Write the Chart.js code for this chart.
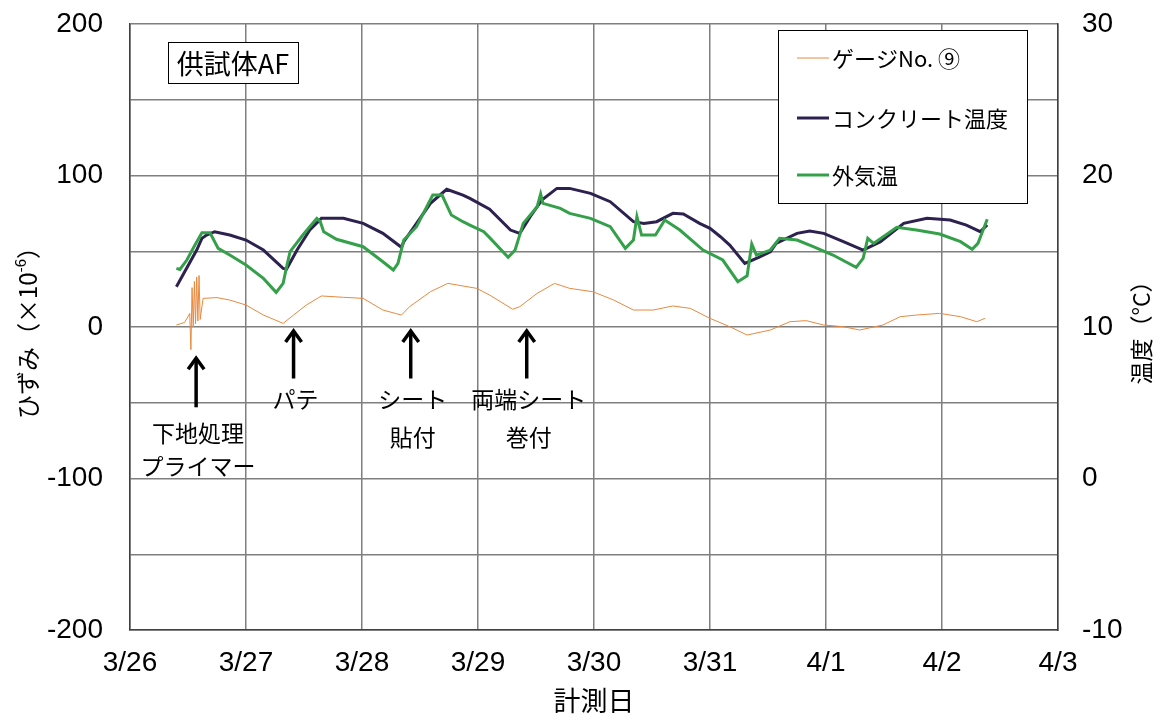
<!DOCTYPE html>
<html>
<head>
<meta charset="utf-8">
<script src="https://cdn.jsdelivr.net/npm/chart.js@4.4.1/dist/chart.umd.min.js"></script>
<style>
  html, body { margin: 0; padding: 0; background: #fff; }
</style>
</head>
<body>
<canvas id="myChart" width="1170" height="719"></canvas>
<script>
// x axis: days since 3/26 0:00
var dateLabels = ['3/26', '3/27', '3/28', '3/29', '3/30', '3/31', '4/1', '4/2', '4/3'];

// gauge No.9 strain (x10^-6), left axis
var gaugeDays = [0.40, 0.47, 0.50, 0.515, 0.525, 0.535, 0.545, 0.555, 0.565, 0.575, 0.585, 0.595, 0.605, 0.63,
    0.75, 0.86, 1.00, 1.15, 1.32, 1.41, 1.52, 1.65, 1.84, 2.01, 2.18, 2.34, 2.41, 2.59, 2.74, 2.99,
    3.10, 3.30, 3.36, 3.51, 3.66, 3.79, 3.99, 4.17, 4.34, 4.51, 4.68, 4.83, 5.00, 5.17, 5.32, 5.52,
    5.69, 5.83, 5.98, 6.15, 6.29, 6.49, 6.64, 6.78, 6.98, 7.16, 7.30, 7.37];
var gaugeStrain = [1.3, 3, 6.8, 9, -15, 26, 0, 30, 2, 33, 4, 34, 5, 18.9,
    19.4, 17.8, 14.5, 7.9, 2.4, 7.9, 14.5, 20.5, 19.6, 18.9, 11.2, 7.9, 13.4, 23.3, 28.8, 25.5,
    21.1, 11.7, 13.4, 22.2, 28.8, 25.5, 23.3, 17.8, 11.2, 11.2, 13.9, 12.3, 5.7, 0.2, -5.3, -2,
    3.5, 4.2, 1.3, 0.2, -2, 1.3, 6.8, 7.9, 9, 6.8, 3.5, 5.7];

// concrete temperature (deg C), right axis
var concreteDays = [0.40, 0.575, 0.62, 0.66, 0.73, 0.86, 1.00, 1.15, 1.32, 1.35, 1.44, 1.55, 1.65, 1.84,
    2.01, 2.18, 2.34, 2.36, 2.47, 2.59, 2.73, 2.87, 2.93, 3.10, 3.28, 3.36, 3.45, 3.55, 3.68, 3.79,
    3.97, 4.14, 4.34, 4.43, 4.54, 4.68, 4.77, 4.91, 5.00, 5.09, 5.17, 5.30, 5.42, 5.52, 5.57, 5.75,
    5.86, 5.98, 6.15, 6.32, 6.47, 6.67, 6.87, 7.07, 7.21, 7.33, 7.39];
var concreteTemp = [12.66, 15.08, 15.85, 16.07, 16.29, 16.07, 15.74, 15.08, 13.87, 13.83, 15.08, 16.4, 17.17, 17.17,
    16.84, 16.18, 15.26, 15.63, 16.84, 18.16, 19.09, 18.71, 18.49, 17.78, 16.4, 16.18, 17.28, 18.38, 19.15, 19.15,
    18.82, 18.27, 16.95, 16.84, 16.95, 17.5, 17.46, 16.84, 16.51, 15.96, 15.41, 14.2, 14.6, 14.97, 15.52, 16.18,
    16.34, 16.18, 15.63, 15.08, 15.63, 16.84, 17.17, 17.06, 16.73, 16.29, 16.73];

// outside air temperature (deg C), right axis
var airDays = [0.40, 0.43, 0.49, 0.56, 0.62, 0.69, 0.76, 0.86, 1.00, 1.15, 1.26, 1.32, 1.35, 1.38,
    1.49, 1.61, 1.64, 1.67, 1.78, 2.01, 2.18, 2.27, 2.31, 2.36, 2.47, 2.61, 2.69, 2.77, 2.87, 2.93,
    3.05, 3.10, 3.26, 3.32, 3.39, 3.51, 3.54, 3.56, 3.71, 3.79, 3.97, 4.14, 4.27, 4.34, 4.37, 4.41,
    4.53, 4.61, 4.74, 4.94, 5.11, 5.24, 5.32, 5.36, 5.40, 5.52, 5.60, 5.75, 5.89, 6.06, 6.26, 6.32,
    6.36, 6.41, 6.61, 6.78, 6.98, 7.16, 7.26, 7.31, 7.39];
var airTemp = [13.87, 13.8, 14.42, 15.41, 16.22, 16.22, 15.19, 14.75, 14.09, 13.21, 12.29, 12.88, 13.98, 14.97,
    16.07, 17.17, 16.95, 16.29, 15.79, 15.3, 14.31, 13.76, 14.2, 15.74, 16.62, 18.71, 18.71, 17.39, 16.95, 16.73,
    16.29, 15.9, 14.6, 15.08, 16.84, 17.94, 18.78, 18.16, 17.83, 17.5, 17.17, 16.62, 15.19, 15.74, 17.28, 16.07,
    16.07, 17.06, 16.4, 15.08, 14.42, 12.99, 13.38, 15.48, 14.75, 15.08, 15.85, 15.74, 15.3, 14.75, 13.94, 14.53,
    15.85, 15.52, 16.58, 16.4, 16.14, 15.63, 15.13, 15.52, 17.11];

// work event markers (day, label lines)
var eventDays = [0.57, 1.41, 2.42, 3.42];
var eventLabels = [['下地処理', 'プライマー'], ['パテ'], ['シート', '貼付'], ['両端シート', '巻付']];

var seriesNames = ['ゲージNo. ⑨', 'コンクリート温度', '外気温'];
var seriesColors = ['#e8893f', '#2d2150', '#34a04a'];
var seriesWidths = [1, 3, 3];

var jpFont = '"Noto Sans CJK JP", "Noto Sans", sans-serif';
var numFont = '"Liberation Sans", Arial, sans-serif';

function toPoints(xs, ys) {
    return xs.map(function (x, i) { return { x: x, y: ys[i] }; });
}

var decorPlugin = {
    id: 'decor',
    afterDatasetsDraw: function (chart) {
        var ctx = chart.ctx;
        var xs = chart.scales.x, ys = chart.scales.y;
        var area = chart.chartArea;
        ctx.save();

        // arrows + event labels
        ctx.strokeStyle = '#000';
        ctx.fillStyle = '#000';
        ctx.lineWidth = 3.5;
        ctx.lineCap = 'butt';
        eventDays.forEach(function (d, i) {
            var px = xs.getPixelForValue(d);
            var first = (i === 0);
            var yTail = ys.getPixelForValue(first ? -53 : -34);
            var yHead = ys.getPixelForValue(first ? -20 : -2);
            ctx.beginPath();
            ctx.moveTo(px, yTail);
            ctx.lineTo(px, yHead + 1);
            ctx.stroke();
            ctx.beginPath();
            ctx.moveTo(px - 8, yHead + 12);
            ctx.lineTo(px, yHead + 1);
            ctx.lineTo(px + 8, yHead + 12);
            ctx.stroke();

            ctx.font = '23px ' + jpFont;
            ctx.textAlign = 'center';
            ctx.textBaseline = 'middle';
            var lines = eventLabels[i];
            var y1 = first ? -70 : -48;
            var y2 = first ? -92 : -72.5;
            ctx.fillText(lines[0], px + 2, ys.getPixelForValue(y1));
            if (lines[1]) ctx.fillText(lines[1], px + 2, ys.getPixelForValue(y2));
        });

        // specimen title box
        ctx.lineWidth = 1;
        ctx.fillStyle = '#fff';
        ctx.fillRect(area.left + 38, area.top + 18, 130, 41);
        ctx.strokeStyle = '#000';
        ctx.strokeRect(area.left + 38.5, area.top + 18.5, 130, 41);
        ctx.fillStyle = '#000';
        ctx.font = '27px ' + jpFont;
        ctx.textAlign = 'center';
        ctx.textBaseline = 'middle';
        ctx.fillText('供試体AF', area.left + 103, area.top + 40);

        // legend box
        var lx = 778, ly = 30, lw = 249, lh = 173;
        ctx.fillStyle = '#fff';
        ctx.fillRect(lx, ly, lw, lh);
        ctx.strokeStyle = '#000';
        ctx.lineWidth = 1;
        ctx.strokeRect(lx + 0.5, ly + 0.5, lw, lh);
        var rowY = [58, 118, 175];
        ctx.font = '22px ' + jpFont;
        ctx.textAlign = 'left';
        ctx.textBaseline = 'middle';
        seriesNames.forEach(function (name, i) {
            ctx.strokeStyle = seriesColors[i];
            ctx.lineWidth = seriesWidths[i];
            ctx.beginPath();
            ctx.moveTo(797, rowY[i]);
            ctx.lineTo(829, rowY[i]);
            ctx.stroke();
            ctx.fillStyle = '#000';
            ctx.fillText(name, 832, rowY[i] + 1);
        });

        // axis titles
        var cy = (area.top + area.bottom) / 2;
        ctx.fillStyle = '#000';
        ctx.save();
        ctx.translate(28, cy);
        ctx.rotate(-Math.PI / 2);
        ctx.textBaseline = 'middle';
        ctx.textAlign = 'left';
        var partA = 'ひずみ（×10', partB = '-6', partC = '）';
        ctx.font = '24px ' + jpFont;
        var wA = ctx.measureText(partA).width, wC = ctx.measureText(partC).width;
        ctx.font = '15px ' + jpFont;
        var wB = ctx.measureText(partB).width;
        var x0 = -(wA + wB + wC) / 2;
        ctx.font = '24px ' + jpFont;
        ctx.fillText(partA, x0, 0);
        ctx.font = '15px ' + jpFont;
        ctx.fillText(partB, x0 + wA, -8);
        ctx.font = '24px ' + jpFont;
        ctx.fillText(partC, x0 + wA + wB, 0);
        ctx.restore();

        ctx.save();
        ctx.translate(1141, cy);
        ctx.rotate(-Math.PI / 2);
        ctx.textAlign = 'center';
        ctx.textBaseline = 'middle';
        ctx.font = '23px ' + jpFont;
        ctx.fillText('温度（°C）', 0, 0);
        ctx.restore();

        ctx.font = '27px ' + jpFont;
        ctx.textAlign = 'center';
        ctx.textBaseline = 'middle';
        ctx.fillText('計測日', (area.left + area.right) / 2, 701);

        ctx.restore();
    }
};

// fixed axis box sizes so the plot area sits where the original one does
function fixVertical(width) {
    return function (s) {
        s.width = width;
        s.paddingTop = 0;
        s.paddingBottom = 0;
    };
}

var ctx = document.getElementById('myChart').getContext('2d');
window.myChart = new Chart(ctx, {
    type: 'scatter',
    data: {
        datasets: [
            {
                label: seriesNames[0],
                data: toPoints(gaugeDays, gaugeStrain),
                yAxisID: 'y',
                borderColor: seriesColors[0],
                borderWidth: seriesWidths[0],
                showLine: true,
                pointRadius: 0,
                order: 2
            },
            {
                label: seriesNames[1],
                data: toPoints(concreteDays, concreteTemp),
                yAxisID: 'y2',
                borderColor: seriesColors[1],
                borderWidth: seriesWidths[1],
                showLine: true,
                pointRadius: 0,
                order: 1
            },
            {
                label: seriesNames[2],
                data: toPoints(airDays, airTemp),
                yAxisID: 'y2',
                borderColor: seriesColors[2],
                borderWidth: seriesWidths[2],
                showLine: true,
                pointRadius: 0,
                order: 0
            }
        ]
    },
    options: {
        responsive: false,
        animation: false,
        layout: { padding: { top: 24, left: 0, right: 0, bottom: 0 } },
        plugins: {
            legend: { display: false },
            tooltip: { enabled: false }
        },
        scales: {
            x: {
                type: 'linear',
                min: 0,
                max: 8,
                afterFit: function (s) { s.height = 89; s.paddingLeft = 0; s.paddingRight = 0; },
                ticks: {
                    stepSize: 1,
                    padding: 16,
                    color: '#000',
                    font: { family: numFont, size: 28 },
                    maxRotation: 0,
                    callback: function (v) { return dateLabels[v]; }
                },
                grid: { color: '#7f7f7f', lineWidth: 1.5, drawTicks: false },
                border: { color: '#404040', width: 1.5 }
            },
            y: {
                position: 'left',
                min: -200,
                max: 200,
                afterFit: fixVertical(130),
                ticks: {
                    stepSize: 50,
                    padding: 27,
                    color: '#000',
                    font: { family: numFont, size: 28 },
                    callback: function (v) { return v % 100 === 0 ? v : ''; }
                },
                grid: { color: '#7f7f7f', lineWidth: 1.5, drawTicks: false },
                border: { color: '#404040', width: 1.5 }
            },
            y2: {
                position: 'right',
                min: -10,
                max: 30,
                afterFit: fixVertical(112),
                ticks: {
                    stepSize: 10,
                    padding: 24,
                    color: '#000',
                    font: { family: numFont, size: 28 }
                },
                grid: { display: false, drawTicks: false },
                border: { color: '#404040', width: 1.5 }
            }
        }
    },
    plugins: [decorPlugin]
});
</script>
</body>
</html>
